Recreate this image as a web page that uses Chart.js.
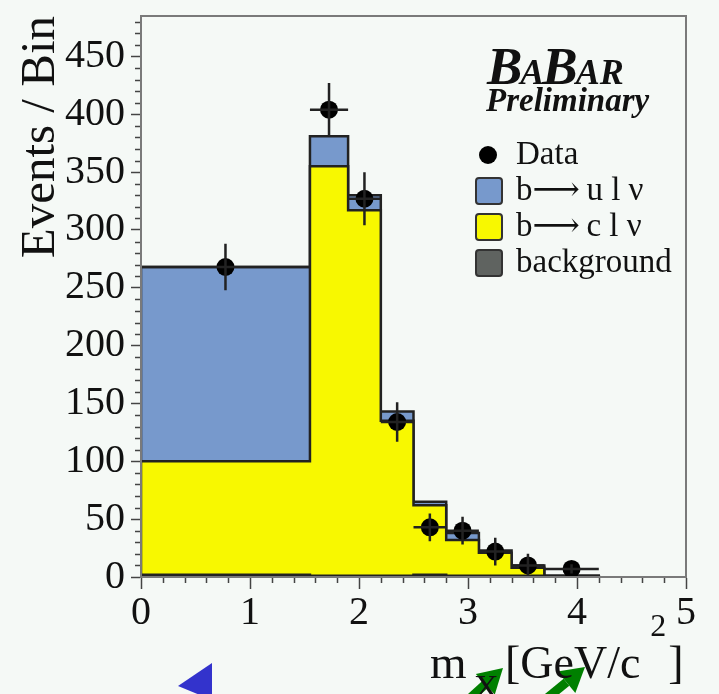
<!DOCTYPE html>
<html lang="en">
<head>
  <meta charset="UTF-8">
  <title>BaBar m_X distribution</title>
  <script src="https://cdn.jsdelivr.net/npm/chart.js"></script>
  <style>
    * { box-sizing: border-box; margin: 0; padding: 0; }
    body { background-color: #f5f9f6; }
    .chart-container { position: relative; width: 719px; height: 694px; }
  </style>
</head>
<body>
  <div class="chart-container">
    <canvas id="mxChart"></canvas>
  </div>

  <script>
    // Bin edges in m_X [GeV/c^2] (variable widths)
    const binEdges = [0, 1.55, 1.9, 2.2, 2.5, 2.8, 3.1, 3.4, 3.7, 4.2];

    // Stacked MC components, events per bin
    const backgroundValues = [2, 1, 1, 1, 2, 1, 1, 1, 0.5];
    const bToCValues = [98, 354, 316, 134, 60, 31, 20, 7, 0.5];
    const bToUValues = [168, 26, 13, 8, 3, 6, 2, 2, 0];

    // Data points with errors
    const dataValues = [268, 404, 327, 134, 43, 40, 22, 10, 7];
    const dataErrors = [20, 23, 23, 17, 12, 12, 12, 10, 4];

    const seriesLabels = ['Data', 'b\u27f6\u2009u l \u03bd', 'b\u27f6\u2009c l \u03bd', 'background'];
    const seriesColors = ['#000000', '#7799cc', '#f8f800', '#5f6360'];

    const serif = '"Liberation Serif", "DejaVu Serif", serif';

    // cumulative tops for stacking
    const cumBkg = backgroundValues.slice();
    const cumBc = cumBkg.map((v, i) => v + bToCValues[i]);
    const cumAll = cumBc.map((v, i) => v + bToUValues[i]);

    function stepPoints(values) {
      const last = values.length - 1;
      const pts = [{ x: binEdges[0], y: 0 }];
      values.forEach((v, i) => pts.push({ x: binEdges[i], y: v }));
      pts.push({ x: binEdges[last + 1], y: values[last] });
      pts.push({ x: binEdges[last + 1], y: 0 });
      return pts;
    }

    const dataPoints = dataValues.map((v, i) => ({
      x: (binEdges[i] + binEdges[i + 1]) / 2,
      y: v
    }));

    function drawArrow(ctx, x1, y1, x2, y2) {
      const ang = Math.atan2(y2 - y1, x2 - x1);
      const head = 24, half = 14;
      const bx = x2 - head * Math.cos(ang), by = y2 - head * Math.sin(ang);
      ctx.strokeStyle = '#008000';
      ctx.fillStyle = '#008000';
      ctx.lineWidth = 9;
      ctx.beginPath();
      ctx.moveTo(x1, y1);
      ctx.lineTo(bx, by);
      ctx.stroke();
      ctx.beginPath();
      ctx.moveTo(x2, y2);
      ctx.lineTo(bx + half * Math.sin(ang), by - half * Math.cos(ang));
      ctx.lineTo(bx - half * Math.sin(ang), by + half * Math.cos(ang));
      ctx.closePath();
      ctx.fill();
    }

    // error bars, minor ticks, frame, titles, legend
    const decorPlugin = {
      id: 'decor',
      afterDatasetsDraw(chart) {
        const { ctx, scales: { x, y } } = chart;
        ctx.save();
        ctx.strokeStyle = '#222';
        ctx.lineWidth = 2.5;
        dataValues.forEach((v, i) => {
          const px = x.getPixelForValue(dataPoints[i].x);
          const py = y.getPixelForValue(v);
          ctx.beginPath();
          ctx.moveTo(px, y.getPixelForValue(v - dataErrors[i]));
          ctx.lineTo(px, y.getPixelForValue(v + dataErrors[i]));
          ctx.moveTo(x.getPixelForValue(binEdges[i]), py);
          ctx.lineTo(x.getPixelForValue(binEdges[i + 1]), py);
          ctx.stroke();
        });
        ctx.restore();
      },
      afterDraw(chart) {
        const { ctx, chartArea: a, scales: { x, y } } = chart;
        ctx.save();
        // minor ticks
        ctx.strokeStyle = '#444';
        ctx.lineWidth = 1.5;
        ctx.beginPath();
        for (let v = 10; v < 485; v += 10) {
          if (v % 50 === 0) continue;
          const py = Math.round(y.getPixelForValue(v)) + 0.5;
          ctx.moveTo(a.left - 6, py);
          ctx.lineTo(a.left, py);
        }
        for (let k = 1; k < 25; k++) {
          if (k % 5 === 0) continue;
          const px = Math.round(x.getPixelForValue(k * 0.2)) + 0.5;
          ctx.moveTo(px, a.bottom);
          ctx.lineTo(px, a.bottom + 6);
        }
        ctx.stroke();
        // frame
        ctx.strokeStyle = '#7a7a7a';
        ctx.lineWidth = 2;
        ctx.strokeRect(a.left, a.top, a.right - a.left, a.bottom - a.top);

        // page arrows at the bottom
        ctx.fillStyle = '#3333cc';
        ctx.beginPath();
        ctx.moveTo(178, 686);
        ctx.lineTo(212, 663);
        ctx.lineTo(212, 700);
        ctx.closePath();
        ctx.fill();
        drawArrow(ctx, 455, 712, 503, 668);
        drawArrow(ctx, 535, 708, 585, 667);

        // x axis title with sub/superscript
        ctx.fillStyle = '#111';
        ctx.textBaseline = 'alphabetic';
        ctx.textAlign = 'left';
        ctx.font = '47px ' + serif;
        ctx.fillText('m', 430, 678);
        ctx.font = '34px ' + serif;
        ctx.fillText('X', 474, 698);
        ctx.font = '46px ' + serif;
        ctx.fillText('[GeV/c', 505, 678);
        let tx = 505 + ctx.measureText('[GeV/c').width + 10;
        ctx.font = '32px ' + serif;
        ctx.fillText('2', tx, 636);
        tx += ctx.measureText('2').width + 2;
        ctx.font = '46px ' + serif;
        ctx.fillText(']', tx, 678);

        // BaBar logo
        let lx = 487;
        [['B', 53], ['A', 36], ['B', 53], ['AR', 36]].forEach(([t, s]) => {
          ctx.font = 'italic bold ' + s + 'px ' + serif;
          ctx.fillText(t, lx, 84);
          lx += ctx.measureText(t).width - 2;
        });
        ctx.font = 'italic bold 33px ' + serif;
        ctx.fillText('Preliminary', 486, 111);

        // legend
        ctx.font = '33px ' + serif;
        seriesLabels.forEach((label, i) => {
          const cy = 155 + i * 36;
          if (i === 0) {
            ctx.beginPath();
            ctx.arc(488, cy, 9, 0, Math.PI * 2);
            ctx.fillStyle = seriesColors[0];
            ctx.fill();
          } else {
            ctx.beginPath();
            ctx.roundRect(476, cy - 13, 26, 26, 3);
            ctx.fillStyle = seriesColors[i];
            ctx.fill();
            ctx.strokeStyle = '#333';
            ctx.lineWidth = 2;
            ctx.stroke();
          }
          ctx.fillStyle = '#111';
          ctx.fillText(label, 516, cy + 9);
        });
        ctx.restore();
      }
    };

    const histStyle = {
      stepped: true,
      borderColor: '#222',
      borderWidth: 2.5,
      pointRadius: 0,
      tension: 0
    };

    new Chart(document.getElementById('mxChart'), {
      type: 'line',
      data: {
        datasets: [
          { ...histStyle, label: 'background', data: stepPoints(cumBkg), fill: 'origin', backgroundColor: '#5f6360' },
          { ...histStyle, label: 'b->c', data: stepPoints(cumBc), fill: '-1', backgroundColor: '#f8f800' },
          { ...histStyle, label: 'b->u', data: stepPoints(cumAll), fill: '-1', backgroundColor: '#7799cc' },
          {
            label: 'Data',
            data: dataPoints,
            showLine: false,
            pointRadius: 9,
            pointBackgroundColor: '#000',
            pointBorderWidth: 0,
            order: -1
          }
        ]
      },
      options: {
        responsive: true,
        maintainAspectRatio: false,
        animation: false,
        layout: { padding: { left: 0, right: 33, top: 16, bottom: 0 } },
        plugins: {
          legend: { display: false },
          tooltip: { enabled: false }
        },
        scales: {
          x: {
            type: 'linear',
            min: 0,
            max: 5,
            ticks: {
              stepSize: 1,
              maxRotation: 0,
              padding: 0,
              color: '#111',
              font: { family: serif, size: 40 }
            },
            grid: { drawOnChartArea: false, tickLength: 12, tickColor: '#444', tickWidth: 1.5 },
            border: { color: '#7a7a7a', width: 2 },
            afterFit(scale) {
              scale.height = 117;
              scale.paddingLeft = 0;
              scale.paddingRight = 0;
            }
          },
          y: {
            min: 0,
            max: 485,
            ticks: {
              stepSize: 50,
              includeBounds: false,
              padding: 6,
              color: '#111',
              font: { family: serif, size: 40 }
            },
            grid: { drawOnChartArea: false, tickLength: 10, tickColor: '#444', tickWidth: 1.5 },
            border: { color: '#7a7a7a', width: 2 },
            title: {
              display: true,
              text: 'Events / Bin',
              align: 'end',
              color: '#111',
              font: { family: serif, size: 49 },
              padding: { top: 12, bottom: 0 }
            },
            afterFit(scale) {
              scale.width = 141;
              scale.paddingTop = 0;
              scale.paddingBottom = 0;
            }
          }
        }
      },
      plugins: [decorPlugin]
    });
  </script>
</body>
</html>
